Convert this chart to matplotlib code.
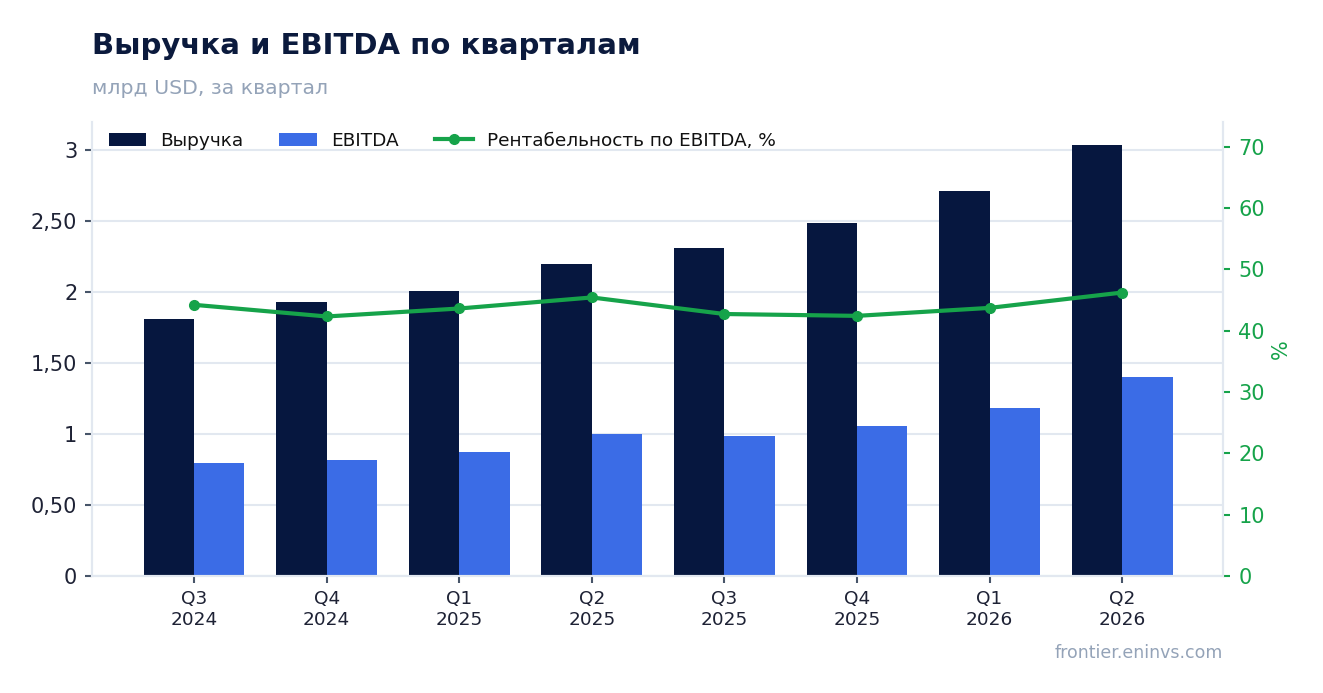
import matplotlib
matplotlib.use("Agg")
import matplotlib.pyplot as plt
from matplotlib.ticker import FixedLocator, FuncFormatter
import numpy as np

quarters = ["Q3\n2024", "Q4\n2024", "Q1\n2025", "Q2\n2025", "Q3\n2025", "Q4\n2025", "Q1\n2026", "Q2\n2026"]
revenue = [1.81, 1.93, 2.01, 2.20, 2.31, 2.485, 2.71, 3.035]
ebitda = [0.80, 0.815, 0.873, 1.00, 0.985, 1.055, 1.183, 1.40]
margin = [44.2, 42.3, 43.6, 45.4, 42.7, 42.4, 43.7, 46.2]

navy = "#06173f"
blue = "#3b6ce6"
green = "#16a34a"
grid_c = "#e2e8f0"
muted = "#94a3b8"
text_c = "#1e2235"

plt.rcParams['font.family'] = ['DejaVu Sans']
fig = plt.figure(figsize=(13.23, 6.93), dpi=100)
ax = fig.add_axes([0.0695, 0.1688, 0.9244 - 0.0695, 0.824 - 0.1688])
ax2 = ax.twinx()

x = np.arange(len(quarters))
w = 0.38
b1 = ax.bar(x - w / 2, revenue, w, color=navy, label="Выручка", zorder=2)
b2 = ax.bar(x + w / 2, ebitda, w, color=blue, label="EBITDA", zorder=2)
l1, = ax2.plot(x, margin, color=green, lw=3, marker="o", ms=7, label="Рентабельность по EBITDA, %", zorder=3)

ax.set_xlim(-0.77, 7.76)
ax.set_ylim(0, 3.2)
ax2.set_ylim(0, 74)

def fmt(v, p):
    if abs(v - round(v)) < 1e-9:
        return f"{int(round(v))}"
    return f"{v:.2f}".replace(".", ",")

ax.yaxis.set_major_locator(FixedLocator([0, 0.5, 1, 1.5, 2, 2.5, 3]))
ax.yaxis.set_major_formatter(FuncFormatter(fmt))
ax2.yaxis.set_major_locator(FixedLocator([0, 10, 20, 30, 40, 50, 60, 70]))

ax.set_xticks(x)
ax.set_xticklabels(quarters, fontsize=13.3, color=text_c)
ax.tick_params(axis="y", labelsize=15, labelcolor=text_c, color="#475569", length=5, width=1.5, pad=5.5)
ax.tick_params(axis="x", color="#475569", length=5, width=1.5, pad=5)
ax2.tick_params(axis="y", labelsize=15, labelcolor=green, color=green, length=5, width=1.5, pad=6)
ax2.set_ylabel("%", color=green, fontsize=15, labelpad=4)

ax.grid(axis="y", color=grid_c, lw=1.5, zorder=0)
ax.set_axisbelow(True)
for a in (ax, ax2):
    a.spines["top"].set_visible(False)
    for s in ("left", "right", "bottom"):
        a.spines[s].set_color(grid_c)
        a.spines[s].set_linewidth(1.5)

leg = ax.legend(handles=[b1, b2, l1], loc="upper left", ncol=3, frameon=False, fontsize=13.3,
                bbox_to_anchor=(0.0, 1.015), handlelength=2.05, handletextpad=0.75, columnspacing=1.95)
for t in leg.get_texts():
    t.set_color("#111111")

fig.text(0.0695, 0.922, "Выручка и EBITDA по кварталам", fontsize=21, fontweight="bold", color="#0b1a3d", va="baseline")
fig.text(0.0695, 0.865, "млрд USD, за квартал", fontsize=14.7, color=muted, va="baseline")
fig.text(0.9244, 0.051, "frontier.eninvs.com", fontsize=12.5, color=muted, ha="right", va="baseline")

fig.savefig("out.png", dpi=100)
